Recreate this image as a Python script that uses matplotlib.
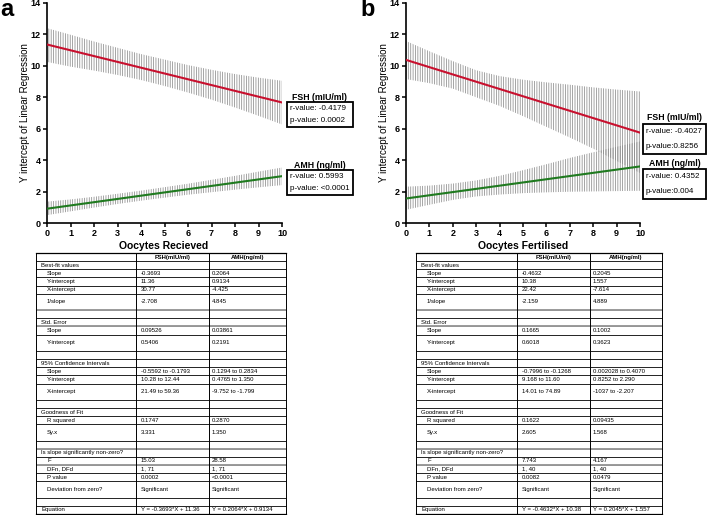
import matplotlib
matplotlib.use("Agg")
import matplotlib.pyplot as plt
from matplotlib.patches import Rectangle

plt.rcParams['font.family'] = ['Liberation Sans', 'DejaVu Sans']
plt.rcParams['hatch.linewidth'] = 0.55
plt.rcParams['hatch.color'] = '#8c8c8c'

W, H = 708, 515

# ---------------- data ----------------
x_pts = [0, 1, 2, 3, 4, 5, 6, 7, 8, 9, 10]
x_ends = [0, 10]

# panel a (Oocytes Recieved)
a_fsh_line = [11.36, 7.67]
a_fsh_upper = [12.40, 11.98, 11.55, 11.15, 10.75, 10.40, 10.05, 9.75, 9.48, 9.25, 9.05]
a_fsh_lower = [10.25, 9.95, 9.70, 9.42, 9.10, 8.72, 8.30, 7.85, 7.35, 6.82, 6.27]
a_amh_line = [0.91, 2.98]
a_amh_upper = [1.36, 1.50, 1.67, 1.86, 2.06, 2.28, 2.50, 2.75, 3.00, 3.27, 3.53]
a_amh_lower = [0.50, 0.74, 0.98, 1.21, 1.42, 1.61, 1.80, 1.96, 2.12, 2.27, 2.41]

# panel b (Oocytes Fertilised)
b_fsh_line = [10.38, 5.75]
b_fsh_upper = [11.58, 10.93, 10.30, 9.72, 9.35, 9.12, 8.95, 8.80, 8.63, 8.49, 8.37]
b_fsh_lower = [9.16, 8.90, 8.55, 8.00, 7.45, 6.80, 6.12, 5.44, 4.73, 3.95, 3.18]
b_amh_line = [1.56, 3.60]
b_amh_upper = [2.31, 2.38, 2.51, 2.71, 3.00, 3.36, 3.74, 4.14, 4.50, 4.85, 5.19]
b_amh_lower = [0.84, 1.16, 1.47, 1.69, 1.81, 1.90, 1.95, 1.99, 2.01, 2.03, 2.05]

x_ticks = [0, 1, 2, 3, 4, 5, 6, 7, 8, 9, 10]
y_ticks = [0, 2, 4, 6, 8, 10, 12, 14]

a_fsh_stats = ["r-value: -0.4179", "p-value: 0.0002"]
a_amh_stats = ["r-value: 0.5993", "p-value: <0.0001"]
b_fsh_stats = ["r-value: -0.4027", "p-value:0.8256"]
b_amh_stats = ["r-value: 0.4352", "p-value:0.004"]

row_labels = ["", "Best-fit values", "Slope", "Y-intercept", "X-intercept", "1/slope", "",
              "Std. Error", "Slope", "Y-intercept", "",
              "95% Confidence Intervals", "Slope", "Y-intercept", "X-intercept", "",
              "Goodness of Fit", "R squared", "Sy.x", "",
              "Is slope significantly non-zero?", "F", "DFn, DFd", "P value", "Deviation from zero?", "",
              "Equation"]
row_units = [1, 1, 1, 1, 1, 2, 1, 1, 1, 2, 1, 1, 1, 1, 2, 1, 1, 1, 2, 1, 1, 1, 1, 1, 2, 1, 1]
row_indent = [0, 0, 1, 1, 1, 1, 0, 0, 1, 1, 0, 0, 1, 1, 1, 0, 0, 1, 1, 0, 0, 1, 1, 1, 1, 0, 0]

a_fsh_col = ["FSH(mIU/ml)", "", "-0.3693", "11.36", "30.77", "-2.708", "", "", "0.09526", "0.5406", "",
             "", "-0.5592 to -0.1793", "10.28 to 12.44", "21.49 to 59.36", "", "", "0.1747", "3.331", "",
             "", "15.03", "1, 71", "0.0002", "Significant", "", "Y = -0.3693*X + 11.36"]
a_amh_col = ["AMH(ng/ml)", "", "0.2064", "0.9134", "-4.425", "4.845", "", "", "0.03861", "0.2191", "",
             "", "0.1294 to 0.2834", "0.4765 to 1.350", "-9.752 to -1.799", "", "", "0.2870", "1.350", "",
             "", "28.58", "1, 71", "<0.0001", "Significant", "", "Y = 0.2064*X + 0.9134"]
b_fsh_col = ["FSH(mIU/ml)", "", "-0.4632", "10.38", "22.42", "-2.159", "", "", "0.1665", "0.6018", "",
             "", "-0.7996 to -0.1268", "9.168 to 11.60", "14.01 to 74.89", "", "", "0.1622", "2.605", "",
             "", "7.743", "1, 40", "0.0082", "Significant", "", "Y = -0.4632*X + 10.38"]
b_amh_col = ["AMH(ng/ml)", "", "0.2045", "1.557", "-7.614", "4.889", "", "", "0.1002", "0.3623", "",
             "", "0.002028 to 0.4070", "0.8252 to 2.290", "-1037 to -2.207", "", "", "0.09435", "1.568", "",
             "", "4.167", "1, 40", "0.0479", "Significant", "", "Y = 0.2045*X + 1.557"]

FSH_COLOR = '#c8102e'
AMH_COLOR = '#1f7a1f'
BAND_COLOR = '#8c8c8c'
TFS = 4.3

fig = plt.figure(figsize=(W / 100, H / 100), dpi=100)

# overlay axes in pixel coordinates (for table, labels, boxes)
ov = fig.add_axes([0, 0, 1, 1])
ov.set_xlim(0, W)
ov.set_ylim(H, 0)
ov.axis('off')


def fa(l, t, r, b):
    return [l / W, 1 - b / H, (r - l) / W, (b - t) / H]


def draw_chart(rect, fsh_line, fsh_up, fsh_lo, amh_line, amh_up, amh_lo):
    ax = fig.add_axes(rect)
    ax.fill_between(x_pts, fsh_lo, fsh_up, facecolor='none', edgecolor=BAND_COLOR,
                    hatch='|||||||', linewidth=0)
    ax.fill_between(x_pts, amh_lo, amh_up, facecolor='none', edgecolor=BAND_COLOR,
                    hatch='|||||||', linewidth=0)
    ax.plot(x_ends, fsh_line, color=FSH_COLOR, lw=1.5, zorder=3)
    ax.plot(x_ends, amh_line, color=AMH_COLOR, lw=1.5, zorder=3)
    ax.set_xlim(0, 10)
    ax.set_ylim(0, 14)
    ax.set_xticks(x_ticks)
    ax.set_yticks(y_ticks)
    for s in ['top', 'right']:
        ax.spines[s].set_visible(False)
    for s in ['left', 'bottom']:
        ax.spines[s].set_linewidth(1.2)
    ax.tick_params(direction='out', length=3, width=1.1, labelsize=6.5, pad=1.5)
    for lab in ax.get_xticklabels() + ax.get_yticklabels():
        lab.set_fontweight('bold')
    ax.set_facecolor('none')
    return ax


axa = draw_chart(fa(47, 3, 282, 223), a_fsh_line, a_fsh_upper, a_fsh_lower,
                 a_amh_line, a_amh_upper, a_amh_lower)
axb = draw_chart(fa(406, 3, 640, 223), b_fsh_line, b_fsh_upper, b_fsh_lower,
                 b_amh_line, b_amh_upper, b_amh_lower)

# y labels
ov.text(25, 113, "Y intercept of Linear Regression", rotation=90, ha='center', va='center', fontsize=7)
ov.text(384, 113, "Y intercept of Linear Regression", rotation=90, ha='center', va='center', fontsize=7)
# x labels
ov.text(164, 246, "Oocytes Recieved", ha='center', va='center', fontsize=7.5, fontweight='bold')
ov.text(523, 246, "Oocytes Fertilised", ha='center', va='center', fontsize=7.5, fontweight='bold')
# panel letters
ov.text(0, 10, "a", ha='left', va='center', fontsize=17, fontweight='bold')
ov.text(360, 10, "b", ha='left', va='center', fontsize=17, fontweight='bold')


def stat_box(title, lines, left, right, title_y, top, bottom):
    ov.text((left + right) / 2, title_y, title, ha='center', va='center', fontsize=6.3, fontweight='bold')
    ov.add_patch(Rectangle((left, top), right - left, bottom - top, fill=False, ec='black', lw=1.3))
    n = len(lines)
    step = (bottom - top) / n
    for i, t in enumerate(lines):
        ov.text(left + 3, top + step * (i + 0.5), t, ha='left', va='center', fontsize=5.8)


stat_box("FSH (mIU/ml)", a_fsh_stats, 287, 353, 97, 102, 127)
stat_box("AMH (ng/ml)", a_amh_stats, 287, 353, 165, 170, 195)
stat_box("FSH (mIU/ml)", b_fsh_stats, 643, 706, 118, 124, 154)
stat_box("AMH (ng/ml)", b_amh_stats, 643, 706, 164, 169, 199)


def draw_table(x0, c1, c2, x3, col1, col2, top=253, bottom=514):
    unit = (bottom - top) / sum(row_units)
    y = top
    bounds = [top]
    for u in row_units:
        y += u * unit
        bounds.append(y)
    for yb in bounds:
        ov.plot([x0, x3], [yb, yb], color='black', lw=0.6, solid_capstyle='butt')
    for idx in [6, 8, 20, 22]:
        yb = bounds[idx]
        ov.plot([x0, x3], [yb, yb], color='#9a9a9a', lw=1.4, solid_capstyle='butt')
    for xv in [x0, c1, c2, x3]:
        ov.plot([xv, xv], [top, bottom], color='black', lw=0.7, solid_capstyle='butt')
    ov.plot([x0, x3], [top, top], color='black', lw=0.9)
    ov.plot([x0, x3], [bottom, bottom], color='black', lw=0.9)
    for i in range(len(row_units)):
        yc = (bounds[i] + bounds[i + 1]) / 2
        if row_labels[i]:
            ov.text(x0 + 5 + 6 * row_indent[i], yc, row_labels[i], ha='left', va='center', fontsize=TFS)
        if i == 0:
            ov.text((c1 + c2) / 2, yc, col1[i], ha='center', va='center', fontsize=TFS, fontweight='bold')
            ov.text((c2 + x3) / 2, yc, col2[i], ha='center', va='center', fontsize=TFS, fontweight='bold')
        else:
            if col1[i]:
                ov.text(c1 + 5, yc, col1[i], ha='left', va='center', fontsize=TFS)
            if col2[i]:
                ov.text(c2 + 3, yc, col2[i], ha='left', va='center', fontsize=TFS)


draw_table(36, 136, 209, 286, a_fsh_col, a_amh_col)
draw_table(416, 517, 590, 662, b_fsh_col, b_amh_col)

fig.savefig("out.png", dpi=100)
